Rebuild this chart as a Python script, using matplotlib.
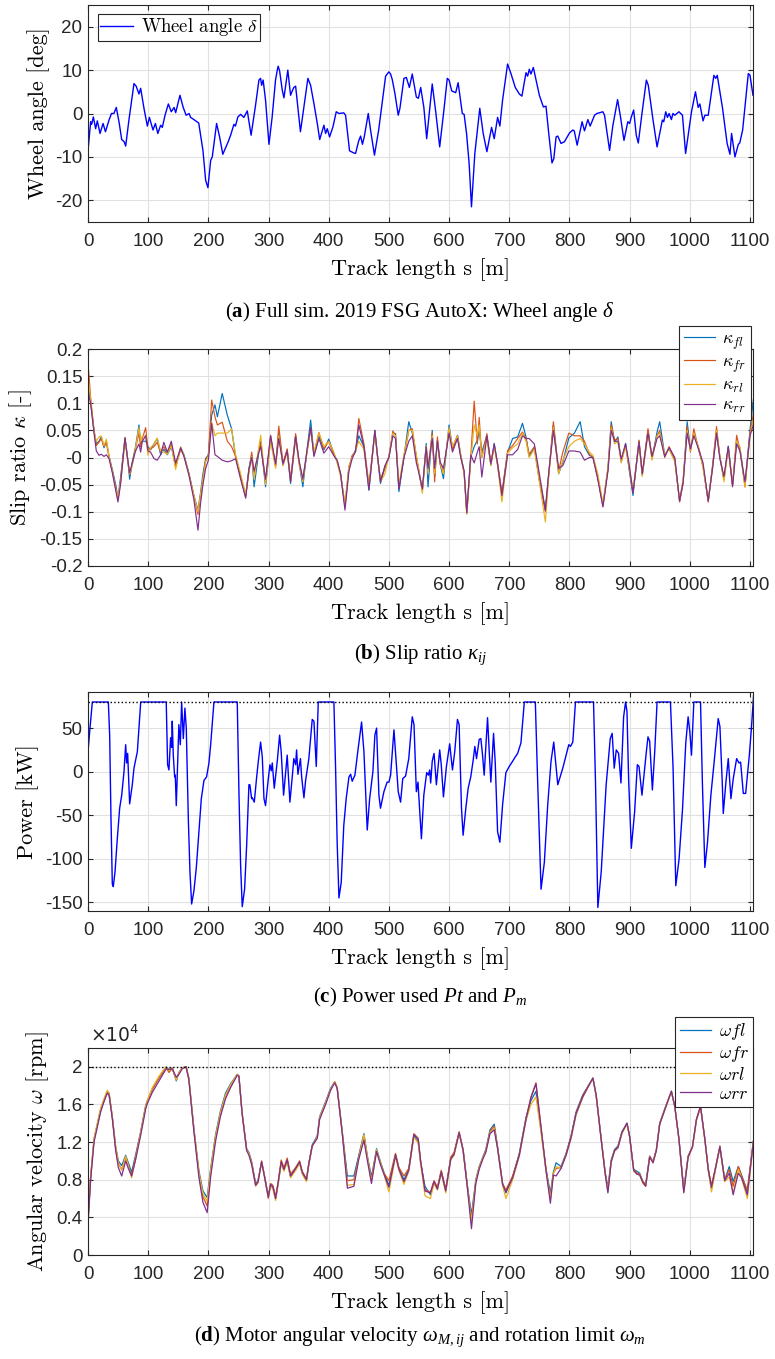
import matplotlib
matplotlib.use('Agg')
import matplotlib.pyplot as plt
from matplotlib.ticker import FuncFormatter
import numpy as np

plt.rcParams['font.family'] = ['Liberation Sans', 'DejaVu Sans']
plt.rcParams['mathtext.fontset'] = 'cm'
plt.rcParams['mathtext.rm'] = 'Liberation Serif'
plt.rcParams['mathtext.it'] = 'Liberation Serif:italic'
plt.rcParams['mathtext.bf'] = 'Liberation Serif:bold'
plt.rcParams['axes.unicode_minus'] = False

# (a) wheel angle [deg] vs track length [m]
wheel_angle = [
    (0, -8.6), (4.4, -1.9), (6, -2.5), (8.9, -0.8), (12.7, -3.5), (15.5, -1.7), (20, -4.6), (25, -2.3),
    (29, -4.2), (35, -1.5), (39, 0), (43, 0), (47, 1.4), (51.5, -1.9), (56, -6), (60, -6.5), (62.6, -7.5),
    (68, -1.5), (76.4, 6.9), (80, 6.3), (84.7, 4.5), (87.5, 5.8), (93, 1.2), (98.6, -2.9), (102, -0.9),
    (108, -3.8), (112, -2.3), (116, -4.6), (120.7, -2.7), (123.5, -3.2), (128, -0.4), (133.5, 2.2),
    (138.4, 0.4), (143, 1.4), (145.7, 0.2), (152.8, 4.2), (158, 1.5), (163, -0.4), (168, 0), (170.5, -0.9),
    (176, -1.4), (184, -2.2), (191, -8.5), (195.5, -15.4), (199.3, -17.1), (203.8, -10.8), (206.5, -10),
    (213.7, -2.3), (218.7, -5.4), (224, -9.4), (233, -6.5), (237, -5), (242.5, -2.5), (245, -2.9),
    (249, -0.8), (253.6, -0.2), (259, -0.9), (264.7, 0.6), (271, -5), (278.4, 1.9), (284, 7.7),
    (286.8, 8.1), (288.5, 6.5), (291, 7.7), (295, 3.1), (300.7, -7.1), (306, -0.8), (311.6, 7.7),
    (314.5, 10), (316, 10.9), (318.4, 9.8), (322.8, 5.4), (325.6, 3.6), (332, 10), (336.6, 4.2),
    (339.4, 5.2), (342, 6), (345, 6.3), (353, -4.2), (358.8, 1.5), (365.4, 8.1), (369.9, 6.5),
    (375.4, 2.3), (381, -2.3), (385, -6), (392, -2.7), (394.8, -4.6), (397.6, -3.5), (401.4, -5.4),
    (407, -3.1), (412.5, 0.4), (417, 0), (425, 0.15), (428, -0.4), (434.6, -8.6), (441.8, -9.1),
    (444.6, -9.2), (450, -6.2), (453, -5.2), (456, -7.1), (459, -5.4), (465.7, 0), (469.5, -3.8),
    (476, -9.6), (483, -3.8), (494.5, 8.6), (500, 9.6), (502.8, 9.1), (505.6, 7.8), (510, 4.6),
    (515.5, -0.4), (518.3, 1.2), (525, 8.1), (529, 8.3), (534, 6), (538.8, 9.1), (545.6, 3.8),
    (549, 3.5), (552.8, 6), (558, 1.5), (562.8, -5.8), (572, 6.8), (577.8, 0.4), (584.4, -7.7),
    (591.7, 1.2), (597, 8.1), (600, 7.7), (604.4, 5.2), (611, 4.8), (615, 7.1), (622, 0), (625, -0.2),
    (629, -4.6), (633.3, -11.5), (637.2, -21.5), (642.8, -9.2), (647, -3.8), (651, 1.2), (656.7, -4.6),
    (662.8, -8.8), (670.6, -3.2), (675, -5.8), (680.6, -0.9), (684.4, -2.9), (688.9, 3.1), (697.2, 11.4),
    (702.8, 9.2), (710, 6), (716.7, 4.5), (721, 4), (727.8, 9.4), (730.5, 8.6), (733.3, 10.2), (736, 9.1),
    (740, 10.6), (750, 4.2), (756.7, 1.5), (761, 1.7), (765.6, -4.6), (771, -11.4), (774, -10.4),
    (777.8, -5.4), (780.6, -5.2), (786, -6.9), (791.7, -6.5), (800, -4.5), (805.6, -3.8), (808, -4),
    (812.8, -7.3), (821, -1.9), (825, -4), (830.6, -1.4), (834.4, -2.9), (841.7, -0.4), (845.6, 0),
    (855.6, 0.4), (858.3, -0.4), (866.7, -8.5), (872, -2.9), (880, 3.2), (884.4, -0.4), (890.6, -6.2),
    (897, -1.9), (900, -2.3), (902.8, -0.8), (906.7, 0.8), (911, -5), (914.4, -6.8), (920.5, 0),
    (927.8, 7.7), (931, 6.5), (938.9, -1.5), (945.6, -7.7), (954.4, -1.5), (956.7, -1.9), (960, 0.4),
    (962.8, -0.9), (965.6, 0), (969.4, -1.4), (972, 0), (975, -0.4), (982, 0.4), (987.8, -0.4),
    (993, -9.2), (1002.8, 0.4), (1009.4, 5), (1013.9, 1.4), (1016.7, 2.2), (1022, -1.7), (1025, -0.4),
    (1030.6, -0.4), (1040, 8.8), (1043, 8.1), (1045.6, 8.8), (1054.4, 1.2), (1062, -6.9), (1066.7, -9.4),
    (1069.4, -4.6), (1075, -10), (1080.6, -7.1), (1083, -6.8), (1087.8, -3.8), (1097.2, 9.2), (1100, 8.8),
    (1105, 4.2),
]

# (b) slip ratio of the four wheels
s_kappa = [0, 4.4, 10, 13.8, 18.3, 22, 26.6, 30.5, 35, 40.4, 46, 49.8, 54.3, 61.5, 65.4, 69.2, 73.6, 79,
           84.7, 87.5, 90.3, 95.8, 99.7, 104, 109.6, 115, 120.7, 126, 131.8, 138.4, 145.6, 154, 159.5,
           167.8, 176, 182.7, 187, 191, 195.5, 200, 205.5, 211, 215, 223, 231.5, 238.6, 245.3, 253.6, 262,
           267.4, 272, 276, 284, 287, 295, 303.4, 311.7, 317, 324, 331, 336.6, 345, 350.5, 357, 364, 370,
           375.4, 383.7, 392, 400, 408.6, 414, 419.7, 427, 433.6, 439, 444.6, 450, 458.5, 466.8, 476.7,
           480.6, 486, 493.4, 500, 506.6, 511, 516.6, 525, 533, 538.9, 545.6, 549, 555.6, 562, 565, 572,
           576, 580.6, 585, 590.6, 600, 605.6, 614, 619.4, 625, 629.4, 636, 641.7, 647, 650, 654.4, 662.8,
           669.4, 675, 680.6, 687.8, 697.2, 705.6, 714, 722, 727.8, 733, 741.7, 750, 760, 765.6, 773.3,
           782, 789, 799, 808.3, 817.8, 825, 833, 839, 847, 855.6, 864, 869.4, 875, 880.6, 886, 893.3,
           898.9, 905.6, 915.6, 921, 930.5, 937.2, 945.6, 950, 958.3, 965.6, 975, 983, 988.9, 995.6, 1001,
           1006.7, 1015.6, 1022, 1030.6, 1037.8, 1044.4, 1050, 1056.7, 1063.9, 1071, 1077.8, 1083.3,
           1091.7, 1100, 1105.6]
k_fl = [0.14, 0.10, 0.05, 0.025, 0.03, 0.038, 0.018, 0.03, 0.002, -0.022, -0.05, -0.075, -0.035, 0.035,
        0.003, -0.04, -0.008, 0.02, 0.06, 0.025, 0.03, 0.03, 0.02, 0.014, 0.025, 0.035, 0.005, 0.015, 0.005,
        0.02, -0.015, 0.018, 0.005, -0.03, -0.07, -0.097, -0.065, -0.03, -0.002, 0.005, 0.078, 0.097, 0.075,
        0.118, 0.078, 0.053, 0.0, -0.036, -0.07, -0.02, 0.005, -0.054, 0.012, 0.03, -0.054, 0.035, -0.015,
        0.045, -0.014, 0.014, -0.048, 0.04, -0.008, -0.054, 0.014, 0.069, 0.004, 0.04, 0.014, 0.034, 0.007,
        -0.008, -0.03, -0.09, -0.017, 0.001, 0.014, 0.04, 0.02, -0.06, 0.05, 0.007, -0.048, -0.017, 0.001,
        0.045, 0.044, -0.063, 0.001, 0.066, 0.045, 0.001, -0.02, -0.06, 0.026, -0.054, 0.05, -0.035, 0.032,
        -0.011, -0.039, 0.06, 0.017, 0.041, 0.004, -0.026, -0.1, 0.001, 0.02, 0.032, 0.05, 0.01, 0.04,
        -0.014, 0.026, -0.014, -0.07, 0.01, 0.035, 0.038, 0.063, 0.038, 0.002, 0.018, -0.042, -0.095, -0.03,
        0.06, -0.03, -0.008, 0.036, 0.045, 0.066, 0.02, 0.004, 0.001, -0.036, -0.088, -0.02, 0.066, 0.028,
        0.038, -0.008, 0.026, -0.02, -0.07, 0.03, -0.033, 0.05, -0.002, 0.047, 0.066, 0.004, 0.017, -0.005,
        -0.08, -0.045, 0.066, 0.014, 0.045, 0.014, -0.017, -0.08, -0.017, 0.045, 0.001, -0.04, 0.021, -0.05,
        0.03, 0.017, -0.05, 0.05, 0.107]
k_fr = [0.175, 0.11, 0.05, 0.022, 0.028, 0.035, 0.02, 0.028, 0.0, -0.025, -0.055, -0.078, -0.042, 0.037,
        0.0, -0.032, -0.012, 0.017, 0.045, 0.02, 0.035, 0.055, 0.015, 0.016, 0.02, 0.028, 0.01, 0.02, 0.008,
        0.025, -0.018, 0.015, 0.003, -0.03, -0.072, -0.105, -0.07, -0.038, -0.005, 0.004, 0.106, 0.075, 0.06,
        0.065, 0.03, 0.02, 0.002, -0.035, -0.072, -0.025, 0.01, -0.03, 0.015, 0.025, -0.045, 0.041, -0.017,
        0.058, -0.01, 0.016, -0.04, 0.044, -0.006, -0.04, 0.01, 0.055, 0.006, 0.046, 0.016, 0.03, 0.005,
        -0.006, -0.03, -0.09, -0.02, 0.004, 0.01, 0.072, 0.025, -0.05, 0.048, 0.005, -0.04, -0.02, 0.0,
        0.049, 0.04, -0.055, 0.0, 0.05, 0.053, 0.0, -0.02, -0.062, 0.02, -0.02, 0.045, -0.045, 0.038,
        -0.012, -0.025, 0.05, 0.015, 0.04, 0.002, -0.03, -0.103, 0.0, 0.104, 0.025, 0.074, 0.0, 0.044,
        -0.01, 0.02, -0.01, -0.065, 0.012, 0.022, 0.035, 0.047, 0.035, 0.006, 0.02, -0.04, -0.1, -0.032,
        0.066, -0.025, 0.01, 0.045, 0.04, 0.04, 0.03, 0.006, 0.0, -0.035, -0.09, -0.022, 0.06, 0.032, 0.035,
        -0.005, 0.022, -0.017, -0.065, 0.032, -0.03, 0.053, 0.0, 0.04, 0.05, 0.0, 0.02, -0.002, -0.082,
        -0.048, 0.058, 0.01, 0.053, 0.01, -0.015, -0.082, -0.015, 0.057, 0.0, -0.04, 0.018, -0.052, 0.041,
        0.014, -0.054, 0.045, 0.08]
k_rl = [0.15, 0.105, 0.048, 0.03, 0.038, 0.04, 0.022, 0.034, 0.002, -0.025, -0.058, -0.072, -0.045, 0.03,
        0.002, -0.03, -0.015, 0.018, 0.055, 0.03, 0.04, 0.04, 0.004, 0.018, 0.025, 0.036, 0.012, 0.01,
        0.006, 0.022, -0.022, 0.02, 0.004, -0.032, -0.07, -0.1, -0.068, -0.04, -0.008, 0.002, 0.065, 0.04,
        0.045, 0.045, 0.045, 0.053, 0.005, -0.03, -0.068, -0.028, 0.002, -0.04, 0.02, 0.041, -0.05, 0.03,
        -0.02, 0.04, -0.015, 0.01, -0.045, 0.035, -0.01, -0.045, 0.012, 0.05, 0.01, 0.045, 0.02, 0.03, 0.01,
        -0.01, -0.035, -0.085, -0.015, 0.0, 0.012, 0.03, 0.015, -0.055, 0.045, 0.01, -0.045, -0.03, 0.004,
        0.045, 0.04, -0.05, 0.005, 0.05, 0.05, 0.005, -0.018, -0.066, 0.022, -0.03, 0.04, -0.03, 0.03, -0.01,
        -0.03, 0.055, 0.02, 0.04, 0.005, -0.028, -0.105, -0.005, 0.06, 0.04, 0.06, 0.0, 0.035, -0.015, 0.02,
        -0.015, -0.082, 0.008, 0.018, 0.025, 0.045, 0.03, 0.0, 0.015, -0.045, -0.119, -0.035, 0.055, -0.03,
        -0.005, 0.02, 0.03, 0.035, 0.025, 0.01, 0.004, -0.03, -0.085, -0.018, 0.055, 0.025, 0.03, -0.01,
        0.02, -0.015, -0.06, 0.025, -0.035, 0.045, -0.005, 0.04, 0.045, 0.006, 0.015, -0.008, -0.078, -0.04,
        0.05, 0.012, 0.045, 0.015, -0.02, -0.078, -0.02, 0.05, 0.002, -0.045, 0.015, -0.05, 0.03, 0.02,
        -0.055, 0.04, 0.07]
k_rr = [0.12, 0.10, 0.045, 0.012, 0.004, 0.006, 0.002, 0.005, -0.002, -0.028, -0.06, -0.082, -0.048,
        0.036, 0.001, -0.028, -0.01, 0.012, 0.025, 0.01, 0.03, 0.04, 0.012, 0.01, -0.002, -0.005, 0.005,
        0.028, 0.01, 0.03, -0.01, 0.018, 0.002, -0.033, -0.078, -0.134, -0.085, -0.05, -0.02, -0.005, 0.063,
        0.005, 0.002, -0.005, -0.008, -0.006, -0.002, -0.04, -0.075, -0.022, 0.0, -0.025, 0.01, 0.02, -0.04,
        0.04, -0.012, 0.035, -0.012, 0.012, -0.045, 0.038, -0.005, -0.04, 0.014, 0.055, 0.002, 0.035, 0.008,
        0.02, 0.003, -0.005, -0.03, -0.097, -0.025, -0.002, 0.012, 0.06, 0.02, -0.06, 0.05, 0.008, -0.045,
        -0.015, 0.0, 0.04, 0.035, -0.058, 0.0, 0.03, 0.04, -0.01, -0.025, -0.058, 0.02, -0.02, 0.035,
        -0.02, 0.03, -0.008, -0.02, 0.045, 0.01, 0.035, 0.0, -0.025, -0.102, 0.005, -0.01, 0.01, 0.02,
        -0.036, 0.04, -0.012, 0.025, -0.012, -0.07, 0.005, 0.005, 0.015, 0.04, 0.035, 0.035, 0.025, -0.03,
        -0.098, -0.028, 0.05, -0.02, -0.015, 0.012, 0.012, 0.01, -0.005, 0.0, 0.0, -0.04, -0.091, -0.025,
        0.05, 0.03, 0.03, -0.003, 0.025, -0.01, -0.065, 0.028, -0.03, 0.045, 0.002, 0.035, 0.04, 0.002,
        0.018, 0.0, -0.08, -0.045, 0.045, 0.016, 0.04, 0.012, -0.01, -0.08, -0.02, 0.045, -0.002, -0.035,
        0.02, -0.054, 0.025, 0.012, -0.045, 0.04, 0.06]

# (c) power used [kW], limit 80 kW
power = [
    (0.5, 27), (3.3, 50), (7.2, 80), (33.8, 80), (36, 42), (38.2, -54), (40.4, -129), (42, -132),
    (44.9, -115), (48.7, -77), (52.6, -42), (56, -27), (59.8, 0), (62.6, 31), (64.2, 10), (65.9, 21),
    (69.2, -37), (73.6, -15), (76.4, 4), (82, 23), (87.5, 79), (88, 80), (130, 80), (132.3, 8), (134.5, 2),
    (137.3, 39), (139, 28), (140, 58), (141.7, 19), (144, -6), (145, -4), (146.7, -39), (149.5, 23),
    (151, 54), (153.4, 31), (155.6, 80), (158.4, 38), (161, 73), (163.3, 50), (166.7, -54), (169.4, -115),
    (172.2, -152), (176, -137), (180, -110), (184.4, -69), (188.3, -31), (192.7, -10), (197, -6), (201, 10),
    (203.8, 31), (209.3, 80), (248, 80), (250.8, -23), (253.6, -108), (256.3, -155), (260.2, -135),
    (263.6, -85), (267.4, -15), (269, -15), (271.9, -31), (273, -30), (276.3, -35), (280, -8), (283, 12),
    (286.8, 34), (289.6, 17), (292.4, -31), (295, -39), (299.6, -8), (302.3, 8), (304.5, 1), (306.2, 10),
    (309.5, -19), (314.5, 12), (318.4, 42), (321, 23), (325, -27), (331, 19), (335.5, -35), (339.4, -6),
    (342, 15), (345, 8), (346.6, 25), (348.8, -3), (353, 15), (355, -6), (358.8, -30), (361.6, -10),
    (367, 15), (372.6, 60), (375.4, 58), (379.3, 6), (382.6, 80), (408.6, 80), (411.4, 4), (414, -81),
    (417, -145), (420.8, -127), (425, -62), (429, -31), (433.6, -6), (436.4, -3), (439, -11), (443.5, -4),
    (449, 27), (454.6, 57), (458.5, 23), (464, -67), (468, -31), (473.4, 0), (476.7, 42), (479.5, 50),
    (483.4, -27), (486, -42), (491.7, -23), (497, -12), (500, -12), (502.8, -4), (508.4, 48), (512, 12),
    (515.5, -23), (519.4, -35), (523, -8), (527.7, -5), (533, 15), (538.8, 63), (541.7, 54), (545.6, -23),
    (548.3, -12), (554, -77), (558, -27), (562.8, -1), (565.6, -4), (567.8, 2), (569.4, -13), (572, 12),
    (575, 21), (578.9, -15), (582, 8), (584.4, 25), (587, 8), (590.6, -29), (595.6, 6), (601, 32),
    (605.6, 2), (609.4, 23), (613.9, 60), (616.7, 54), (620.6, -42), (623.3, -73), (627.8, -42),
    (631.7, -19), (636, -6), (640, 13), (642.8, 29), (645.6, 15), (650, 37), (652.8, 38), (655.6, 19),
    (658.3, -4), (663.9, 62), (666.7, 23), (669.4, -12), (673.9, 44), (676.7, 10), (680.6, -69),
    (684.4, -81), (688.9, -38), (694.4, -1), (700, 6), (705.6, 12), (710, 17), (713.9, 21), (719.4, 33),
    (725, 80), (743.3, 80), (747.2, -12), (752.8, -135), (758.3, -104), (763.9, -38), (769.4, 12),
    (773.9, 34), (780.6, -15), (788.9, 4), (798.9, 31), (801.7, 29), (805.6, 34), (810, 80), (840, 80),
    (843.3, -12), (847.2, -156), (852.8, -115), (861, -15), (867.8, 38), (871, 44), (874.4, 4),
    (877.8, 25), (881.7, 21), (885.6, -13), (890, 63), (893.3, 80), (895.6, 69), (898.3, -8), (902.8, -88),
    (908.3, -46), (912.8, 8), (915.6, 6), (920.5, -27), (927.8, 23), (930.5, 40), (933.3, 35),
    (937.8, -21), (941.7, 23), (945.6, 80), (967.8, 80), (972.2, 4), (976.7, -131), (982.2, -100),
    (987.8, -44), (993.3, 33), (997.2, 63), (1000, 46), (1002.8, 19), (1006.7, 80), (1017.8, 80),
    (1021, -15), (1025, -110), (1029.4, -81), (1035, -27), (1040, 8), (1047.2, 61), (1050, 52),
    (1053.9, -12), (1055.6, -48), (1060, -12), (1063.9, 15), (1068.3, -31), (1072.2, -8), (1077.8, 15),
    (1081.7, 10), (1084.4, 11), (1088.9, -25), (1092.8, -25), (1098.9, 19), (1102.8, 54), (1106, 88),
]
power_limit = 80

# (d) motor angular velocity [x1e4 rpm], limit 2e4 rpm
s_omega = [0.5, 4.4, 10, 15.5, 21, 26.6, 32, 35, 40.4, 46, 50.4, 56, 62.6, 67, 72.5, 79, 87.5, 95.8, 98.6,
           107, 118, 123.5, 130, 134.5, 140, 146.7, 151, 156.7, 163, 167.6, 176, 184.4, 191, 198, 203.8,
           212, 220, 228.5, 237, 248, 250.8, 256, 263.6, 267.4, 272, 278.5, 282.4, 288.5, 292.4, 299.6,
           303.4, 307.3, 311.7, 316, 321, 325.6, 331, 336.6, 345, 351.6, 356, 363, 367, 372.6, 381, 384.8,
           394.8, 403, 410, 414, 422.5, 431, 441.8, 450, 458.5, 464, 471, 479.5, 486, 491.7, 500, 511,
           516.6, 525, 533, 541.5, 548.7, 552.8, 560, 569, 575, 580.6, 587, 594.4, 602.8, 608.3, 616.7,
           623.3, 630.6, 637.2, 644.4, 650, 656.7, 661, 668, 675, 680.6, 688.9, 694.4, 705.6, 716.7, 727.8,
           736, 744.4, 752.8, 761, 768.3, 773.3, 777.8, 786, 794.4, 802.8, 811, 822, 830.6, 839, 844.4,
           852.8, 859.4, 863.9, 869.4, 875, 880.6, 887.2, 895.6, 900, 906.7, 912, 916.7, 922, 926.7, 933.3,
           938.9, 944.4, 950, 958.3, 969.4, 975, 982, 990, 997.2, 1004.4, 1011, 1017.8, 1025, 1030.6, 1036,
           1043.3, 1050, 1058, 1065.6, 1072, 1080.6, 1086, 1095.6, 1105.6]
w_fl = [0.42, 0.83, 1.23, 1.39, 1.55, 1.65, 1.74, 1.72, 1.47, 1.15, 1.00, 0.95, 1.06, 0.98, 0.88, 1.06,
        1.31, 1.59, 1.64, 1.77, 1.89, 1.94, 2.0, 1.97, 1.99, 1.85, 1.94, 1.99, 2.0, 1.88, 1.34, 0.89, 0.68,
        0.61, 0.92, 1.28, 1.53, 1.72, 1.82, 1.92, 1.90, 1.51, 1.13, 1.09, 0.99, 0.76, 0.79, 0.99, 0.87, 0.63,
        0.75, 0.73, 0.60, 0.76, 0.98, 0.90, 1.0, 0.83, 0.91, 0.98, 0.87, 0.79, 0.98, 1.17, 1.27, 1.47, 1.63,
        1.77, 1.84, 1.78, 1.31, 0.84, 0.84, 1.06, 1.29, 1.06, 0.83, 1.13, 0.99, 0.88, 0.74, 1.07, 0.92, 0.80,
        0.91, 1.27, 1.20, 0.98, 0.73, 0.64, 0.78, 0.71, 0.89, 0.69, 1.03, 1.08, 1.30, 1.12, 0.73, 0.43, 0.80,
        0.94, 1.05, 1.12, 1.33, 1.39, 1.15, 0.76, 0.66, 0.83, 1.08, 1.46, 1.64, 1.74, 1.33, 0.91, 0.66, 0.88,
        0.98, 0.94, 1.08, 1.27, 1.52, 1.70, 1.79, 1.88, 1.69, 1.23, 0.88, 0.72, 1.01, 1.12, 1.16, 1.31, 1.40,
        1.26, 0.91, 0.89, 0.87, 0.78, 0.75, 1.05, 0.99, 1.12, 1.40, 1.55, 1.74, 1.58, 1.23, 0.70, 1.05, 1.15,
        1.44, 1.58, 1.23, 0.91, 0.70, 0.94, 1.15, 0.80, 0.94, 0.78, 0.94, 0.85, 0.67, 1.21]
w_fr = [0.41, 0.83, 1.22, 1.38, 1.54, 1.64, 1.73, 1.71, 1.46, 1.13, 0.97, 0.91, 1.04, 0.95, 0.85, 1.04,
        1.30, 1.57, 1.63, 1.76, 1.88, 1.93, 1.99, 1.94, 1.98, 1.87, 1.93, 1.99, 2.0, 1.87, 1.33, 0.86, 0.62,
        0.52, 0.88, 1.25, 1.50, 1.69, 1.80, 1.92, 1.90, 1.51, 1.12, 1.08, 0.98, 0.75, 0.78, 1.0, 0.87, 0.62,
        0.76, 0.74, 0.62, 0.78, 1.01, 0.93, 1.03, 0.86, 0.93, 1.0, 0.89, 0.81, 0.97, 1.16, 1.25, 1.45, 1.61,
        1.76, 1.84, 1.78, 1.30, 0.79, 0.80, 1.04, 1.27, 1.04, 0.80, 1.11, 0.97, 0.87, 0.79, 1.08, 0.93, 0.84,
        0.92, 1.29, 1.24, 1.0, 0.69, 0.67, 0.79, 0.72, 0.90, 0.70, 1.04, 1.09, 1.31, 1.12, 0.72, 0.37, 0.78,
        0.93, 1.04, 1.11, 1.31, 1.37, 1.14, 0.76, 0.69, 0.84, 1.07, 1.45, 1.68, 1.83, 1.36, 0.92, 0.60, 0.87,
        0.92, 0.93, 1.07, 1.26, 1.51, 1.69, 1.79, 1.88, 1.70, 1.23, 0.87, 0.68, 1.00, 1.11, 1.15, 1.30, 1.40,
        1.26, 0.91, 0.87, 0.86, 0.78, 0.74, 1.05, 0.99, 1.12, 1.40, 1.55, 1.74, 1.58, 1.23, 0.68, 1.05, 1.15,
        1.44, 1.58, 1.23, 0.92, 0.74, 0.95, 1.16, 0.80, 0.91, 0.73, 0.94, 0.84, 0.69, 1.21]
w_rl = [0.40, 0.84, 1.24, 1.40, 1.56, 1.66, 1.75, 1.72, 1.47, 1.15, 0.98, 0.90, 1.05, 0.95, 0.82, 1.02,
        1.30, 1.58, 1.64, 1.78, 1.90, 1.95, 2.0, 1.96, 1.99, 1.86, 1.94, 1.99, 2.0, 1.88, 1.34, 0.87, 0.65,
        0.57, 0.90, 1.26, 1.51, 1.70, 1.81, 1.92, 1.90, 1.51, 1.12, 1.08, 0.97, 0.73, 0.77, 0.98, 0.86, 0.60,
        0.73, 0.70, 0.58, 0.75, 0.97, 0.89, 0.99, 0.82, 0.90, 0.97, 0.86, 0.78, 0.96, 1.15, 1.26, 1.46, 1.62,
        1.76, 1.84, 1.78, 1.30, 0.74, 0.75, 1.03, 1.28, 1.05, 0.78, 1.12, 0.98, 0.86, 0.67, 1.05, 0.90, 0.75,
        0.89, 1.25, 1.19, 0.96, 0.63, 0.60, 0.76, 0.69, 0.87, 0.66, 1.01, 1.06, 1.29, 1.11, 0.71, 0.36, 0.78,
        0.93, 1.04, 1.10, 1.30, 1.35, 1.13, 0.74, 0.60, 0.80, 1.05, 1.43, 1.60, 1.68, 1.30, 0.89, 0.60, 0.86,
        0.94, 0.92, 1.06, 1.24, 1.49, 1.67, 1.78, 1.88, 1.69, 1.22, 0.86, 0.69, 0.99, 1.10, 1.14, 1.29, 1.39,
        1.25, 0.89, 0.86, 0.85, 0.76, 0.73, 1.04, 0.98, 1.11, 1.39, 1.54, 1.74, 1.58, 1.22, 0.67, 1.04, 1.14,
        1.43, 1.57, 1.22, 0.90, 0.67, 0.93, 1.14, 0.78, 0.83, 0.66, 0.91, 0.82, 0.60, 1.20]
w_rr = [0.38, 0.80, 1.20, 1.36, 1.52, 1.63, 1.72, 1.70, 1.45, 1.11, 0.93, 0.84, 1.00, 0.92, 0.84, 1.01,
        1.27, 1.55, 1.61, 1.73, 1.85, 1.91, 1.98, 1.97, 1.98, 1.89, 1.92, 1.98, 2.0, 1.86, 1.31, 0.82, 0.56,
        0.45, 0.83, 1.21, 1.47, 1.66, 1.78, 1.91, 1.90, 1.51, 1.11, 1.06, 0.96, 0.74, 0.77, 0.99, 0.86, 0.61,
        0.75, 0.72, 0.60, 0.77, 0.99, 0.91, 1.01, 0.84, 0.92, 0.99, 0.88, 0.80, 0.97, 1.16, 1.24, 1.44, 1.60,
        1.75, 1.83, 1.77, 1.29, 0.71, 0.73, 1.02, 1.22, 1.01, 0.76, 1.10, 0.96, 0.86, 0.72, 1.06, 0.91, 0.78,
        0.90, 1.28, 1.23, 0.99, 0.68, 0.66, 0.78, 0.70, 0.88, 0.68, 1.02, 1.07, 1.30, 1.11, 0.70, 0.28, 0.76,
        0.91, 1.03, 1.09, 1.29, 1.33, 1.13, 0.75, 0.67, 0.82, 1.06, 1.44, 1.67, 1.82, 1.35, 0.90, 0.55, 0.85,
        0.84, 0.92, 1.06, 1.25, 1.50, 1.68, 1.78, 1.88, 1.70, 1.22, 0.86, 0.66, 0.99, 1.11, 1.14, 1.30, 1.40,
        1.26, 0.90, 0.86, 0.85, 0.77, 0.73, 1.04, 0.98, 1.11, 1.39, 1.54, 1.74, 1.58, 1.23, 0.66, 1.04, 1.15,
        1.44, 1.58, 1.23, 0.91, 0.72, 0.94, 1.15, 0.79, 0.87, 0.64, 0.87, 0.82, 0.64, 1.20]
omega_limit = 2.0

x_ticks = list(range(0, 1101, 100))
matlab_colors = ['#0072BD', '#D95319', '#EDB120', '#7E2F8E']

W, H = 775, 1359
fig = plt.figure(figsize=(W / 100, H / 100), dpi=100)
spine_c = '#262626'
label_kw = dict(fontfamily='cmr10', fontsize=16)


def add_ax(top, bottom, left=88, right=753):
    return fig.add_axes([left / W, 1 - bottom / H, (right - left) / W, (bottom - top) / H])


def style(ax, ylim, yticks, h_px):
    ax.set_xlim(0, 1105)
    ax.set_ylim(*ylim)
    ax.set_xticks(x_ticks)
    ax.set_yticks(yticks)
    ax.grid(True, color='#e1e1e1', lw=0.8)
    ax.set_axisbelow(True)
    for sp in ax.spines.values():
        sp.set_color(spine_c)
        sp.set_linewidth(0.8)
    ax.tick_params(direction='in', top=True, right=True, length=3.6, width=0.8,
                   color=spine_c, labelsize=13.5, labelcolor='#262626')
    ax.tick_params(axis='x', pad=8)
    ax.tick_params(axis='y', pad=4)
    ax.yaxis.set_major_formatter(FuncFormatter(lambda v, p: '%g' % round(v, 4)))
    ax.set_xlabel('Track length s [m]', **label_kw)
    ax.xaxis.set_label_coords(0.5, -36 / h_px)


def legend(ax, anchor, loc, fs, family=None, pad=0.25):
    prop = {'size': fs}
    if family:
        prop['family'] = family
    leg = ax.legend(loc=loc, bbox_to_anchor=anchor, borderaxespad=0, fancybox=False,
                    edgecolor=spine_c, framealpha=1, prop=prop, handlelength=1.75,
                    handletextpad=0.4, borderpad=pad, labelspacing=0.12)
    leg.get_frame().set_linewidth(0.8)
    return leg


def caption(y, txt):
    fig.text(420 / W, 1 - y / H, txt, ha='center', va='center', fontsize=15,
             fontfamily='Liberation Serif', math_fontfamily='custom')


# (a)
ax = add_ax(5, 222)
sa, da = zip(*wheel_angle)
ax.plot(sa, da, color='#0000ff', lw=1.0, label=r'Wheel angle $\delta$')
style(ax, (-25, 25), [-20, -10, 0, 10, 20], 217)
ax.set_ylabel('Wheel angle [deg]', **label_kw)
legend(ax, (0.015, 0.9585), 'upper left', 13.5, 'cmr10', pad=0.12)
caption(312, r'($\mathbf{a}$) Full sim. 2019 FSG AutoX: Wheel angle $\delta$')

# (b)
ax = add_ax(349, 566)
for vals, c, lab in zip([k_fl, k_fr, k_rl, k_rr], matlab_colors,
                        [r'$\kappa_{fl}$', r'$\kappa_{fr}$', r'$\kappa_{rl}$', r'$\kappa_{rr}$']):
    ax.plot(s_kappa, vals, color=c, lw=0.85, label=lab)
style(ax, (-0.2, 0.2), np.round(np.arange(-0.2, 0.201, 0.05), 2), 217)
ax.set_ylabel(r'Slip ratio $\kappa$ [-]', **label_kw)
legend(ax, (0.997, 1.106), 'upper right', 13)
caption(655, r'($\mathbf{b}$) Slip ratio $\kappa_{ij}$')

# (c)
ax = add_ax(692, 911)
sp_, pw = zip(*power)
ax.plot(sp_, pw, color='#0000ff', lw=1.0)
ax.axhline(power_limit, color='k', ls=':', lw=1.0)
style(ax, (-160, 91.5), [-150, -100, -50, 0, 50], 219)
ax.set_ylabel('Power [kW]', **label_kw)
caption(997, r'($\mathbf{c}$) Power used $Pt$ and $P_m$')

# (d)
ax = add_ax(1048, 1255)
for vals, c, lab in zip([w_fl, w_fr, w_rl, w_rr], matlab_colors,
                        [r'$\omega fl$', r'$\omega fr$', r'$\omega rl$', r'$\omega rr$']):
    ax.plot(s_omega, vals, color=c, lw=0.9, label=lab)
ax.axhline(omega_limit, color='k', ls=':', lw=1.0)
style(ax, (0, 2.2), [0, 0.4, 0.8, 1.2, 1.6, 2.0], 207)
ax.set_ylabel(r'Angular velocity $\omega$ [rpm]', **label_kw)
ax.annotate(r'$\times10^{4}$', xy=(0, 1), xycoords='axes fraction', xytext=(2, 2),
            textcoords='offset pixels', ha='left', va='bottom', fontsize=13.5,
            math_fontfamily='dejavusans', color='#262626')
legend(ax, (1.0, 1.151), 'upper right', 13)
caption(1337, r'($\mathbf{d}$) Motor angular velocity $\omega_{M,ij}$ and rotation limit $\omega_m$')

fig.savefig('out.png', dpi=100)
